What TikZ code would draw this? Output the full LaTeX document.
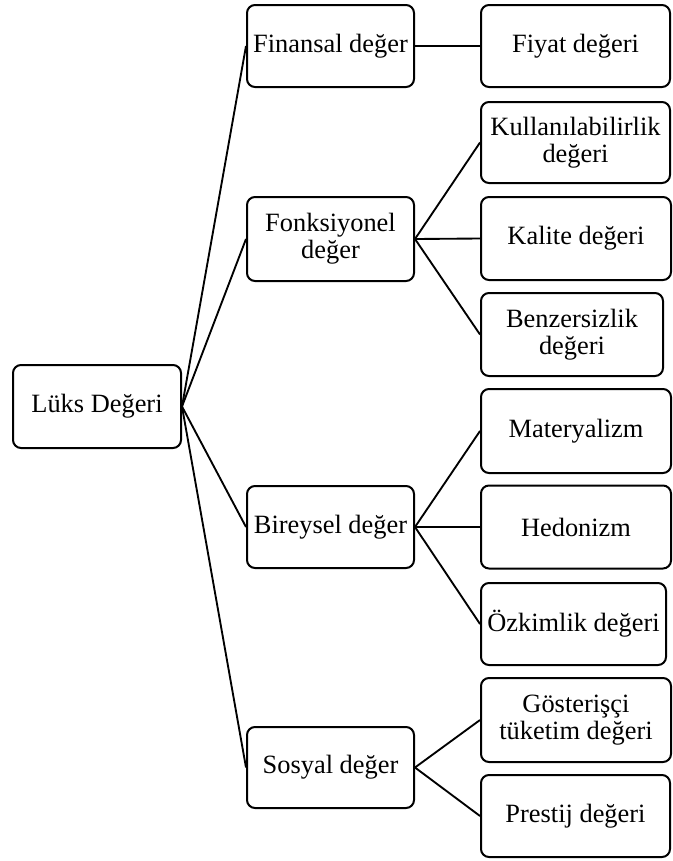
\documentclass[tikz,border=0pt]{standalone}
\usepackage{fontspec}
\setmainfont{Liberation Serif}
\begin{document}
\begin{tikzpicture}[x=0.75pt,y=-0.75pt,
  box/.style={draw, line width=1.5pt, rounded corners=6pt, align=center,
    inner sep=1pt, font=\fontsize{19.8pt}{20.5pt}\selectfont},
  conn/.style={line width=1.4pt}]
\useasboundingbox (0,0) rectangle (672,861);
% root
\node[box, minimum width=126pt, minimum height=62.25pt] (lux) at (97,406.5) {Lüks Değeri};
% middle level
\node[box, minimum width=125.25pt, minimum height=61.5pt] (fin) at (330.5,46) {Finansal değer};
\node[box, minimum width=125.25pt, minimum height=63pt] (fon) at (330.5,239) {Fonksiyonel\\değer};
\node[box, minimum width=125.25pt, minimum height=61.5pt] (bir) at (330.5,527) {Bireysel değer};
\node[box, minimum width=125.25pt, minimum height=60.75pt] (sos) at (330.5,767.5) {Sosyal değer};
% right level
\node[box, minimum width=141.75pt, minimum height=61.5pt] (fiy) at (575.5,46) {Fiyat değeri};
\node[box, minimum width=141.75pt, minimum height=60.75pt] (kul) at (575.5,142.5) {Kullanılabilirlik\\değeri};
\node[box, minimum width=142.5pt, minimum height=62.25pt] (kal) at (576,238.5) {Kalite değeri};
\node[box, minimum width=136.5pt, minimum height=62.25pt] (ben) at (572,334.5) {Benzersizlik\\değeri};
\node[box, minimum width=142.5pt, minimum height=63pt] (mat) at (576,431) {Materyalizm};
\node[box, minimum width=142.5pt, minimum height=62.25pt] (hed) at (576,527) {Hedonizm};
\node[box, minimum width=138.75pt, minimum height=61.5pt] (ozk) at (573.5,624) {Özkimlik değeri};
\node[box, minimum width=142.5pt, minimum height=63pt] (gos) at (576,720) {Gösterişçi\\tüketim değeri};
\node[box, minimum width=141.75pt, minimum height=61.5pt] (pre) at (575.5,816) {Prestij değeri};
% connectors
\foreach \m in {fin,fon,bir,sos} \draw[conn] (lux.east) -- (\m.west);
\draw[conn] (fin.east) -- (fiy.west);
\foreach \r in {kul,kal,ben} \draw[conn] (fon.east) -- (\r.west);
\foreach \r in {mat,hed,ozk} \draw[conn] (bir.east) -- (\r.west);
\foreach \r in {gos,pre} \draw[conn] (sos.east) -- (\r.west);
\end{tikzpicture}
\end{document}
